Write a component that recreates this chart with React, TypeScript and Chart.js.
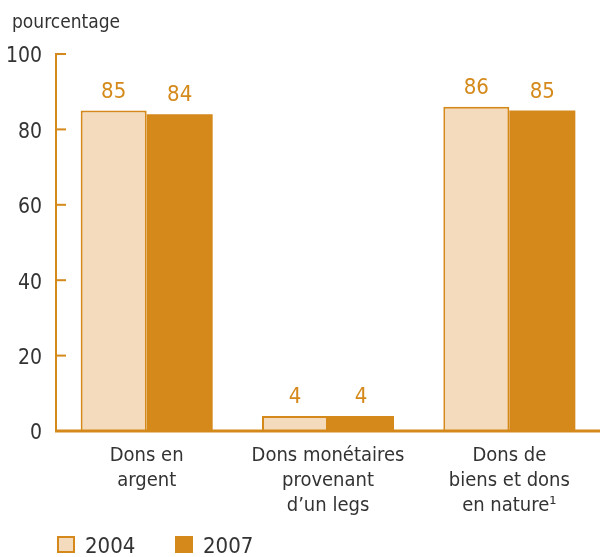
import React, { useEffect, useRef } from "react";
import { Chart, registerables } from "chart.js";

Chart.register(...registerables);

const categories: string[][] = [
  ["Dons en", "argent"],
  ["Dons monétaires", "provenant", "d’un legs"],
  ["Dons de", "biens et dons", "en nature¹"],
];
const seriesNames = ["2004", "2007"];
const values2004 = [85, 4, 86];
const values2007 = [84, 4, 85];
const yTicks = [0, 20, 40, 60, 80, 100];
const yTitle = "pourcentage";

const ORANGE = "#D4891A";
const LIGHT = "#F4DBBD";
const TEXT = "#333333";
const FONT = "'Liberation Sans Narrow', 'DejaVu Sans Condensed', 'Roboto Condensed', Roboto, sans-serif";

const decorPlugin = {
  id: "decor",
  afterDatasetsDraw(chart: any) {
    const ctx = chart.ctx;
    const area = chart.chartArea;
    const y = chart.scales.y;
    ctx.save();
    // data labels
    ctx.fillStyle = ORANGE;
    ctx.font = `22px ${FONT}`;
    ctx.textAlign = "center";
    ctx.textBaseline = "alphabetic";
    chart.data.datasets.forEach((ds: any, di: number) => {
      const meta = chart.getDatasetMeta(di);
      meta.data.forEach((bar: any, i: number) => {
        ctx.fillText(String(ds.data[i]), bar.x, bar.y - 13);
      });
    });
    // axes
    ctx.strokeStyle = ORANGE;
    ctx.lineWidth = 2;
    ctx.beginPath();
    ctx.moveTo(area.left, area.top);
    ctx.lineTo(area.left, area.bottom);
    ctx.stroke();
    yTicks.forEach((v) => {
      if (v === 0) return;
      const py = y.getPixelForValue(v);
      ctx.beginPath();
      ctx.moveTo(area.left - 1, py);
      ctx.lineTo(area.left + 10, py);
      ctx.stroke();
    });
    ctx.lineWidth = 3;
    ctx.beginPath();
    ctx.moveTo(area.left - 1, area.bottom);
    ctx.lineTo(area.right, area.bottom);
    ctx.stroke();
    // title
    ctx.fillStyle = TEXT;
    ctx.font = `19px ${FONT}`;
    ctx.textAlign = "left";
    ctx.fillText(yTitle, 12, 28);
    // legend
    const legendY = 536;
    const items = [
      { x: 57, fill: LIGHT, border: ORANGE },
      { x: 175, fill: ORANGE, border: ORANGE },
    ];
    ctx.font = `22px ${FONT}`;
    items.forEach((it, i) => {
      ctx.fillStyle = it.fill;
      ctx.fillRect(it.x, legendY, 18, 17);
      ctx.strokeStyle = it.border;
      ctx.lineWidth = 2;
      ctx.strokeRect(it.x + 1, legendY + 1, 16, 15);
      ctx.fillStyle = TEXT;
      ctx.fillText(chart.data.datasets[i].label, it.x + 28, legendY + 17);
    });
    ctx.restore();
  },
};

export default function App() {
  const ref = useRef<HTMLCanvasElement>(null);
  useEffect(() => {
    if (!ref.current) return;
    const chart = new Chart(ref.current, {
      type: "bar",
      data: {
        labels: categories,
        datasets: [
          {
            label: seriesNames[0],
            data: values2004,
            backgroundColor: LIGHT,
            borderColor: ORANGE,
            borderWidth: 2,
          },
          {
            label: seriesNames[1],
            data: values2007,
            backgroundColor: ORANGE,
            borderColor: ORANGE,
            borderWidth: 0,
          },
        ],
      },
      options: {
        animation: false,
        responsive: true,
        maintainAspectRatio: false,
        layout: { padding: { top: 54, left: 0, right: 0, bottom: 0 } },
        plugins: {
          legend: { display: false },
          tooltip: { enabled: false },
        },
        datasets: {
          bar: { categoryPercentage: 0.728, barPercentage: 1 },
        },
        scales: {
          x: {
            grid: { display: false, drawTicks: false },
            border: { display: false },
            ticks: {
              color: TEXT,
              font: { family: FONT, size: 20, lineHeight: 1.25 },
              padding: 12,
              maxRotation: 0,
              autoSkip: false,
            },
            afterFit: (s: any) => {
              s.height = 126;
            },
          },
          y: {
            min: 0,
            max: 100,
            grid: { display: false, drawTicks: false },
            border: { display: false },
            ticks: {
              stepSize: 20,
              color: TEXT,
              font: { family: FONT, size: 21 },
              padding: 14,
              labelOffset: 3,
            },
            afterFit: (s: any) => {
              s.width = 56;
            },
          },
        },
      },
      plugins: [decorPlugin],
    });
    return () => chart.destroy();
  }, []);
  return (
    <div style={{ position: "absolute", left: 0, top: 0, width: 600, height: 557 }}>
      <canvas ref={ref} />
    </div>
  );
}
